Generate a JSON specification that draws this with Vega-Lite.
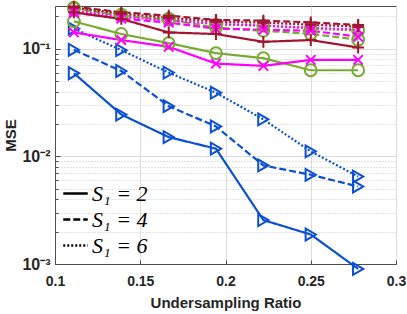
{
  "$schema": "https://vega.github.io/schema/vega-lite/v6.json",
  "width": 341,
  "height": 258,
  "autosize": "none",
  "padding": {"left": 55, "top": 6, "right": 11, "bottom": 50},
  "background": "white",
  "config": {
    "view": {"stroke": "#4d4d4d", "strokeWidth": 1},
    "axis": {
      "labelFont": "Liberation Sans", "labelFontWeight": "bold", "labelFontSize": 14, "labelColor": "#262626",
      "titleFont": "Liberation Sans", "titleFontWeight": "bold", "titleFontSize": 15, "titleColor": "#262626",
      "domainColor": "#4d4d4d", "tickColor": "#4d4d4d", "gridColor": "#dcdcdc"
    }
  },
  "data": {"values": [
    {"m":"blue","s":"S₁ = 2","x":0.1111,"y":0.0593},{"m":"blue","s":"S₁ = 2","x":0.1389,"y":0.0245},{"m":"blue","s":"S₁ = 2","x":0.1667,"y":0.0151},{"m":"blue","s":"S₁ = 2","x":0.1944,"y":0.0118},{"m":"blue","s":"S₁ = 2","x":0.2222,"y":0.00256},{"m":"blue","s":"S₁ = 2","x":0.25,"y":0.00188},{"m":"blue","s":"S₁ = 2","x":0.2778,"y":0.0009},
    {"m":"blue","s":"S₁ = 4","x":0.1111,"y":0.0979},{"m":"blue","s":"S₁ = 4","x":0.1389,"y":0.0622},{"m":"blue","s":"S₁ = 4","x":0.1667,"y":0.0293},{"m":"blue","s":"S₁ = 4","x":0.1944,"y":0.019},{"m":"blue","s":"S₁ = 4","x":0.2222,"y":0.00824},{"m":"blue","s":"S₁ = 4","x":0.25,"y":0.00675},{"m":"blue","s":"S₁ = 4","x":0.2778,"y":0.00525},
    {"m":"blue","s":"S₁ = 6","x":0.1111,"y":0.1538},{"m":"blue","s":"S₁ = 6","x":0.1389,"y":0.0972},{"m":"blue","s":"S₁ = 6","x":0.1667,"y":0.0601},{"m":"blue","s":"S₁ = 6","x":0.1944,"y":0.0391},{"m":"blue","s":"S₁ = 6","x":0.2222,"y":0.0221},{"m":"blue","s":"S₁ = 6","x":0.25,"y":0.01114},{"m":"blue","s":"S₁ = 6","x":0.2778,"y":0.0065},
    {"m":"green","s":"S₁ = 2","x":0.1111,"y":0.1799},{"m":"green","s":"S₁ = 2","x":0.1389,"y":0.1372},{"m":"green","s":"S₁ = 2","x":0.1667,"y":0.113},{"m":"green","s":"S₁ = 2","x":0.1944,"y":0.0912},{"m":"green","s":"S₁ = 2","x":0.2222,"y":0.0818},{"m":"green","s":"S₁ = 2","x":0.25,"y":0.0632},{"m":"green","s":"S₁ = 2","x":0.2778,"y":0.0632},
    {"m":"green","s":"S₁ = 4","x":0.1111,"y":0.2364},{"m":"green","s":"S₁ = 4","x":0.1389,"y":0.2034},{"m":"green","s":"S₁ = 4","x":0.1667,"y":0.1866},{"m":"green","s":"S₁ = 4","x":0.1944,"y":0.1571},{"m":"green","s":"S₁ = 4","x":0.2222,"y":0.1473},{"m":"green","s":"S₁ = 4","x":0.25,"y":0.138},{"m":"green","s":"S₁ = 4","x":0.2778,"y":0.1214},
    {"m":"green","s":"S₁ = 6","x":0.1111,"y":0.2416},{"m":"green","s":"S₁ = 6","x":0.1389,"y":0.2078},{"m":"green","s":"S₁ = 6","x":0.1667,"y":0.1907},{"m":"green","s":"S₁ = 6","x":0.1944,"y":0.1676},{"m":"green","s":"S₁ = 6","x":0.2222,"y":0.1641},{"m":"green","s":"S₁ = 6","x":0.25,"y":0.1538},{"m":"green","s":"S₁ = 6","x":0.2778,"y":0.1473},
    {"m":"magenta","s":"S₁ = 2","x":0.1111,"y":0.142},{"m":"magenta","s":"S₁ = 2","x":0.1389,"y":0.1206},{"m":"magenta","s":"S₁ = 2","x":0.1667,"y":0.1044},{"m":"magenta","s":"S₁ = 2","x":0.1944,"y":0.0729},{"m":"magenta","s":"S₁ = 2","x":0.2222,"y":0.0694},{"m":"magenta","s":"S₁ = 2","x":0.25,"y":0.0789},{"m":"magenta","s":"S₁ = 2","x":0.2778,"y":0.0789},
    {"m":"magenta","s":"S₁ = 4","x":0.1111,"y":0.2164},{"m":"magenta","s":"S₁ = 4","x":0.1389,"y":0.1907},{"m":"magenta","s":"S₁ = 4","x":0.1667,"y":0.175},{"m":"magenta","s":"S₁ = 4","x":0.1944,"y":0.1538},{"m":"magenta","s":"S₁ = 4","x":0.2222,"y":0.1505},{"m":"magenta","s":"S₁ = 4","x":0.25,"y":0.1473},{"m":"magenta","s":"S₁ = 4","x":0.2778,"y":0.1295},
    {"m":"magenta","s":"S₁ = 6","x":0.1111,"y":0.2265},{"m":"magenta","s":"S₁ = 6","x":0.1389,"y":0.1991},{"m":"magenta","s":"S₁ = 6","x":0.1667,"y":0.1827},{"m":"magenta","s":"S₁ = 6","x":0.1944,"y":0.1713},{"m":"magenta","s":"S₁ = 6","x":0.2222,"y":0.1641},{"m":"magenta","s":"S₁ = 6","x":0.25,"y":0.1571},{"m":"magenta","s":"S₁ = 6","x":0.2778,"y":0.1505},
    {"m":"red","s":"S₁ = 2","x":0.1111,"y":0.2184},{"m":"red","s":"S₁ = 2","x":0.1389,"y":0.1895},{"m":"red","s":"S₁ = 2","x":0.1667,"y":0.142},{"m":"red","s":"S₁ = 2","x":0.1944,"y":0.1372},{"m":"red","s":"S₁ = 2","x":0.2222,"y":0.1162},{"m":"red","s":"S₁ = 2","x":0.25,"y":0.1206},{"m":"red","s":"S₁ = 2","x":0.2778,"y":0.1028},
    {"m":"red","s":"S₁ = 4","x":0.1111,"y":0.247},{"m":"red","s":"S₁ = 4","x":0.1389,"y":0.2184},{"m":"red","s":"S₁ = 4","x":0.1667,"y":0.2034},{"m":"red","s":"S₁ = 4","x":0.1944,"y":0.1855},{"m":"red","s":"S₁ = 4","x":0.2222,"y":0.1827},{"m":"red","s":"S₁ = 4","x":0.25,"y":0.176},{"m":"red","s":"S₁ = 4","x":0.2778,"y":0.1665},
    {"m":"red","s":"S₁ = 6","x":0.1111,"y":0.2416},{"m":"red","s":"S₁ = 6","x":0.1389,"y":0.2123},{"m":"red","s":"S₁ = 6","x":0.1667,"y":0.1949},{"m":"red","s":"S₁ = 6","x":0.1944,"y":0.1788},{"m":"red","s":"S₁ = 6","x":0.2222,"y":0.175},{"m":"red","s":"S₁ = 6","x":0.25,"y":0.1676},{"m":"red","s":"S₁ = 6","x":0.2778,"y":0.1606}
  ]},
  "encoding": {
    "x": {"field": "x", "type": "quantitative",
      "scale": {"domain": [0.1, 0.3], "nice": false, "zero": false},
      "axis": {"title": "Undersampling Ratio", "values": [0.1, 0.15, 0.2, 0.25, 0.3], "format": "~g",
        "tickSize": -4, "labelPadding": 14, "titlePadding": 7, "grid": true, "gridDash": [], "labelFlush": false}},
    "y": {"field": "y", "type": "quantitative",
      "scale": {"type": "log", "domain": [0.001, 0.25], "nice": false},
      "axis": {"title": "MSE", "titlePadding": 3, "labelPadding": 10, "labelFontSize": 16,
        "values": [0.001,0.002,0.003,0.004,0.005,0.006,0.007,0.008,0.009,0.01,0.02,0.03,0.04,0.05,0.06,0.07,0.08,0.09,0.1,0.2],
        "labelExpr": "datum.value == 0.1 ? '10⁻¹' : datum.value == 0.01 ? '10⁻²' : datum.value == 0.001 ? '10⁻³' : ''",
        "tickSize": {"condition": {"test": "datum.value == 0.1 || datum.value == 0.01 || datum.value == 0.001", "value": -5}, "value": -3},
        "gridDash": {"condition": {"test": "datum.value == 0.1 || datum.value == 0.01 || datum.value == 0.001", "value": []}, "value": [1, 2]},
        "gridColor": {"condition": {"test": "datum.value == 0.1 || datum.value == 0.01 || datum.value == 0.001", "value": "#dcdcdc"}, "value": "#c8c8c8"},
        "labelFlush": false, "labelOverlap": false}}
  },
  "layer": [
    {
      "mark": {"type": "line", "strokeWidth": 2.2},
      "encoding": {
        "color": {"field": "m", "type": "nominal", "legend": null,
          "scale": {"domain": ["blue", "magenta", "green", "red"], "range": ["#0B4FD6", "#FF00FF", "#77AC30", "#A2142F"]}},
        "strokeDash": {"field": "s", "type": "nominal",
          "scale": {"domain": ["S₁ = 2", "S₁ = 4", "S₁ = 6"], "range": [[1, 0], [7, 3], [2, 2]]},
          "legend": {"title": null, "orient": "bottom-left", "offset": 7, "symbolType": "stroke", "symbolSize": 600,
            "symbolStrokeWidth": 2.5, "symbolStrokeColor": "black", "labelFont": "Liberation Serif", "labelFontStyle": "italic",
            "labelFontSize": 22, "labelColor": "black", "rowPadding": 1, "padding": 0, "labelOffset": 3, "fillColor": "transparent"}},
        "detail": {"field": "m"}
      }
    },
    {
      "mark": {"type": "point", "filled": false, "strokeWidth": 2, "size": 140, "opacity": 1},
      "encoding": {
        "color": {"field": "m", "type": "nominal", "legend": null,
          "scale": {"domain": ["blue", "magenta", "green", "red"], "range": ["#0B4FD6", "#FF00FF", "#77AC30", "#A2142F"]}},
        "shape": {"field": "m", "type": "nominal", "legend": null,
          "scale": {"domain": ["blue", "magenta", "green", "red"], "range": ["triangle-right", "M-0.8,-0.8L0.8,0.8M-0.8,0.8L0.8,-0.8", "circle", "M-1,0L1,0M0,-1L0,1"]}}
      }
    }
  ]
}
